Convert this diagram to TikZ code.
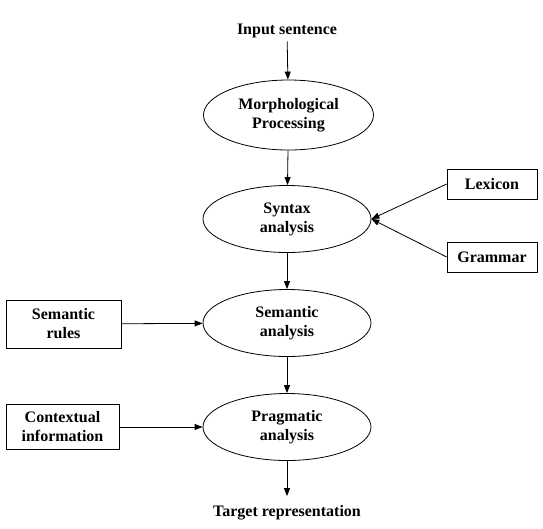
\documentclass[tikz,border=0pt]{standalone}
\usepackage{fontspec}
\setmainfont{Liberation Serif}
\usetikzlibrary{positioning,shapes,arrows.meta,shapes.geometric}

\begin{document}
\begin{tikzpicture}[x=1pt,y=1pt,
        every node/.style = {font=\bfseries\fontsize{16}{19}\selectfont, align=center},
        stage/.style = {draw, ellipse, line width=0.8pt, minimum width=168pt, minimum height=67pt, inner sep=0pt},
        source/.style = {draw, rectangle, line width=0.8pt, inner sep=0pt},
        flow/.style = {-{Triangle[width=6pt,length=8pt]}, line width=0.8pt},
        node distance=104pt, on grid]
        \useasboundingbox (0,0) rectangle (543,-528);
        \node(input) at (287,-31) {Input sentence};
        \node(morph) [stage, below = 84pt of input, xshift=1.5pt, minimum width=170pt, minimum height=70pt] {Morphological\\Processing};
        \node(syntax) [stage, below = of morph, xshift=-1.5pt] {Syntax\\analysis};
        \node(semantic) [stage, below = of syntax] {Semantic\\analysis};
        \node(pragmatic) [stage, below = of semantic] {Pragmatic\\analysis};
        \node(target) [below = 86pt of pragmatic] {Target representation};

        \node(lexicon) [source, right = 205pt of syntax, yshift=35pt, minimum width=90pt, minimum height=30pt] {Lexicon};
        \node(grammar) [source, right = 205pt of syntax, yshift=-38pt, minimum width=90pt, minimum height=30pt] {Grammar};
        \node(rules) [source, left = 223.5pt of semantic, yshift=-1pt, minimum width=115pt, minimum height=48pt] {Semantic\\rules};
        \node(context) [source, left = 224.5pt of pragmatic, minimum width=113pt, minimum height=45pt] {Contextual\\information};

        \draw[flow] (input) -- (morph);
        \draw[flow] (morph) -- (syntax);
        \draw[flow] (syntax) -- (semantic);
        \draw[flow] (semantic) -- (pragmatic);
        \draw[flow, shorten >=6pt] (pragmatic) -- (target);
        \draw[flow] (lexicon.west) -- (syntax.east);
        \draw[flow] (grammar.west) -- (syntax.east);
        \draw[flow] (rules) -- (semantic);
        \draw[flow] (context) -- (pragmatic);
    \end{tikzpicture}
\end{document}
